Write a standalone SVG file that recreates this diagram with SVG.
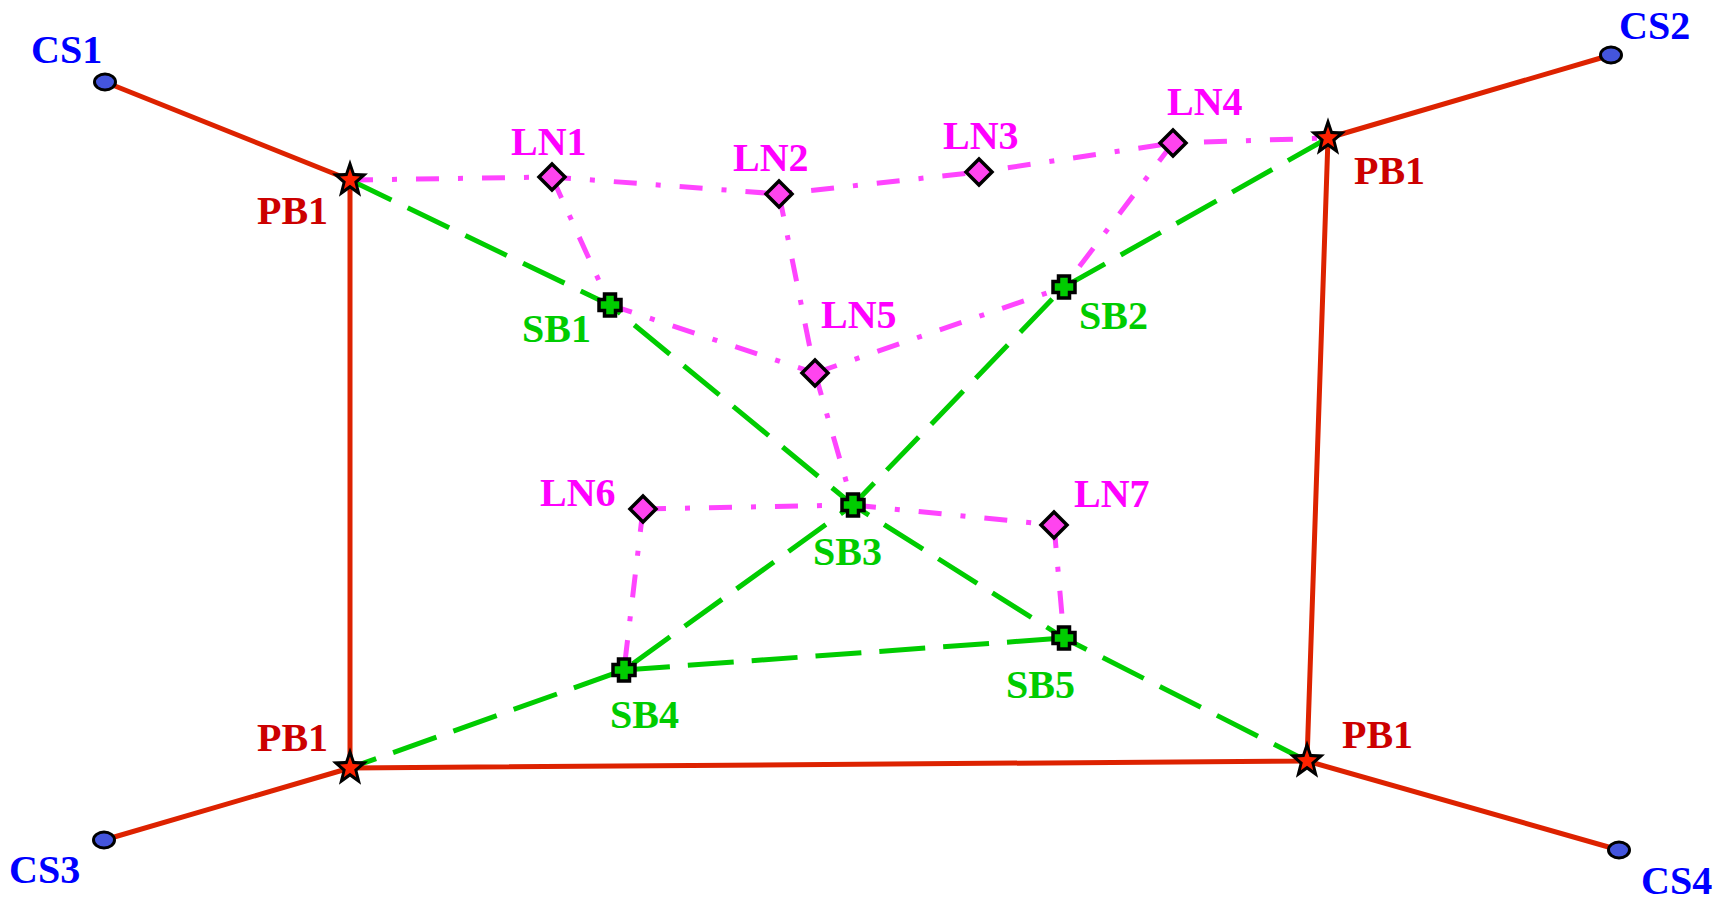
<svg xmlns="http://www.w3.org/2000/svg" width="1730" height="902" viewBox="0 0 1730 902">
  <defs>
    <style>
      .lbl { font-family: "Liberation Serif", "Times New Roman", serif; font-weight: bold; font-size: 40px; }
      .cs-t { fill: #0000ff; }
      .pb-t { fill: #cc0000; }
      .ln-t { fill: #ff00ff; }
      .sb-t { fill: #00cc00; }
      .red { stroke: #dd2200; stroke-width: 5; fill: none; stroke-linecap: round; stroke-linejoin: round; }
      .grn { stroke: #00cc00; stroke-width: 5; fill: none; stroke-dasharray: 46 18; }
      .mag { stroke: #ff44ff; stroke-width: 5; fill: none; stroke-dasharray: 23 19 5 19; }
    </style>
    <!-- customer site: blue oval -->
    <ellipse id="cs" cx="0" cy="0" rx="10.5" ry="8" fill="#4455dd" stroke="#000" stroke-width="3"/>
    <!-- power bus: black star with red core -->
    <g id="pb">
      <polygon transform="scale(1.05,1.15)" fill="#000" points="0,-18 4.41,-6.07 17.12,-5.56 7.13,2.32 10.58,14.56 0,7.5 -10.58,14.56 -7.13,2.32 -17.12,-5.56 -4.41,-6.07"/>
      <polygon transform="scale(1.05,1.15)" fill="#ff2200" points="0,-10 2.47,-3.40 9.51,-3.09 3.99,1.30 5.88,8.09 0,4.2 -5.88,8.09 -3.99,1.30 -9.51,-3.09 -2.47,-3.40"/>
    </g>
    <!-- load node: magenta diamond -->
    <path id="ln" d="M0,-13 L13,0 L0,13 L-13,0 Z" fill="#ff44ee" stroke="#000" stroke-width="3.5"/>
    <!-- substation bus: green cross -->
    <path id="sb" d="M-5.5,-11 H5.5 V-5.5 H11 V5.5 H5.5 V11 H-5.5 V5.5 H-11 V-5.5 H-5.5 Z" fill="#00cc00" stroke="#000" stroke-width="3.5"/>
  </defs>

  <rect width="1730" height="902" fill="#ffffff"/>

  <g id="connectors">
    <!-- distribution links (dash-dot) -->
    <g class="mag">
      <polyline points="350,180 552,177 779,194 979,172 1173,143 1328,138"/>
      <line x1="552" y1="177" x2="610" y2="305"/>
      <line x1="610" y1="305" x2="815" y2="373"/>
      <line x1="779" y1="194" x2="815" y2="373"/>
      <line x1="815" y1="373" x2="1064" y2="287"/>
      <line x1="1173" y1="143" x2="1064" y2="287"/>
      <line x1="815" y1="373" x2="853" y2="505"/>
      <line x1="643" y1="509" x2="853" y2="505"/>
      <line x1="853" y1="505" x2="1054" y2="525"/>
      <line x1="643" y1="509" x2="624" y2="670"/>
      <line x1="1054" y1="525" x2="1064" y2="638"/>
    </g>
    <!-- substation links (dashed) -->
    <g class="grn">
      <polyline points="350,180 610,305 853,505 1064,638 1307,761"/>
      <polyline points="1328,138 1064,287 853,505 624,670 350,768"/>
      <line x1="624" y1="670" x2="1064" y2="638"/>
    </g>
    <!-- power links (solid) -->
    <g class="red">
      <line x1="105" y1="82" x2="350" y2="180"/>
      <line x1="1611" y1="55" x2="1328" y2="138"/>
      <line x1="104" y1="840" x2="350" y2="768"/>
      <line x1="1619" y1="850" x2="1307" y2="761"/>
      <polyline points="350,180 350,768 1307,761 1328,138"/>
    </g>
  </g>

  <g id="CS1"><use href="#cs" x="105" y="82"/><text class="lbl cs-t" x="31" y="63">CS1</text></g>
  <g id="CS2"><use href="#cs" x="1611" y="55"/><text class="lbl cs-t" x="1619" y="39">CS2</text></g>
  <g id="CS3"><use href="#cs" x="104" y="840"/><text class="lbl cs-t" x="9" y="883">CS3</text></g>
  <g id="CS4"><use href="#cs" x="1619" y="850"/><text class="lbl cs-t" x="1641" y="894">CS4</text></g>

  <g id="PB1-tl"><use href="#pb" x="350" y="180"/><text class="lbl pb-t" x="257" y="224">PB1</text></g>
  <g id="PB1-tr"><use href="#pb" x="1328" y="138"/><text class="lbl pb-t" x="1354" y="184">PB1</text></g>
  <g id="PB1-bl"><use href="#pb" x="350" y="768"/><text class="lbl pb-t" x="257" y="751">PB1</text></g>
  <g id="PB1-br"><use href="#pb" x="1307" y="761"/><text class="lbl pb-t" x="1342" y="748">PB1</text></g>

  <g id="LN1"><use href="#ln" x="552" y="177"/><text class="lbl ln-t" x="511" y="155">LN1</text></g>
  <g id="LN2"><use href="#ln" x="779" y="194"/><text class="lbl ln-t" x="733" y="171">LN2</text></g>
  <g id="LN3"><use href="#ln" x="979" y="172"/><text class="lbl ln-t" x="943" y="149">LN3</text></g>
  <g id="LN4"><use href="#ln" x="1173" y="143"/><text class="lbl ln-t" x="1167" y="115">LN4</text></g>
  <g id="LN5"><use href="#ln" x="815" y="373"/><text class="lbl ln-t" x="821" y="328">LN5</text></g>
  <g id="LN6"><use href="#ln" x="643" y="509"/><text class="lbl ln-t" x="540" y="506">LN6</text></g>
  <g id="LN7"><use href="#ln" x="1054" y="525"/><text class="lbl ln-t" x="1074" y="507">LN7</text></g>

  <g id="SB1"><use href="#sb" x="610" y="305"/><text class="lbl sb-t" x="522" y="342">SB1</text></g>
  <g id="SB2"><use href="#sb" x="1064" y="287"/><text class="lbl sb-t" x="1079" y="329">SB2</text></g>
  <g id="SB3"><use href="#sb" x="853" y="505"/><text class="lbl sb-t" x="813" y="565">SB3</text></g>
  <g id="SB4"><use href="#sb" x="624" y="670"/><text class="lbl sb-t" x="610" y="728">SB4</text></g>
  <g id="SB5"><use href="#sb" x="1064" y="638"/><text class="lbl sb-t" x="1006" y="698">SB5</text></g>
</svg>
